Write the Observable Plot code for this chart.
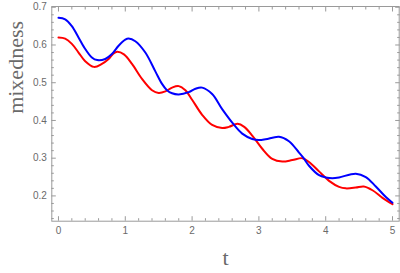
<!DOCTYPE html>
<html>
<head>
<meta charset="utf-8">
<script src="https://cdn.jsdelivr.net/npm/d3@7"></script>
<script src="https://cdn.jsdelivr.net/npm/@observablehq/plot@0.6"></script>
<style>
  body { margin: 0; background: #fff; }
  svg { display: block; }
</style>
</head>
<body>
<div id="chart"></div>
<script>
// Blue series (t, mixedness)
const blueT = [0, 0.1, 0.2, 0.3, 0.38, 0.5, 0.58, 0.7, 0.8, 0.9, 1.0, 1.05, 1.15, 1.3, 1.45, 1.55, 1.62, 1.7, 1.8, 1.95, 2.05, 2.15, 2.3, 2.45, 2.62, 2.75, 2.9, 3.0, 3.1, 3.3, 3.45, 3.6, 3.67, 3.75, 3.9, 4.0, 4.1, 4.2, 4.45, 4.6, 4.75, 4.9, 5.0];
const blueV = [0.672, 0.668, 0.65, 0.62, 0.595, 0.567, 0.56, 0.563, 0.576, 0.598, 0.614, 0.617, 0.61, 0.58, 0.53, 0.497, 0.481, 0.472, 0.469, 0.475, 0.484, 0.487, 0.47, 0.43, 0.39, 0.365, 0.351, 0.348, 0.35, 0.357, 0.345, 0.315, 0.3, 0.28, 0.255, 0.249, 0.247, 0.249, 0.259, 0.25, 0.225, 0.197, 0.182];
// Red series
const redT = [0, 0.1, 0.2, 0.3, 0.4, 0.53, 0.65, 0.75, 0.82, 0.88, 0.98, 1.1, 1.25, 1.4, 1.5, 1.6, 1.7, 1.8, 1.9, 2.0, 2.15, 2.3, 2.45, 2.55, 2.68, 2.78, 2.9, 3.05, 3.2, 3.35, 3.5, 3.65, 3.75, 3.9, 4.0, 4.05, 4.2, 4.3, 4.45, 4.57, 4.7, 4.85, 5.0];
const redV = [0.62, 0.617, 0.603, 0.58, 0.557, 0.542, 0.55, 0.563, 0.577, 0.582, 0.575, 0.55, 0.51, 0.48, 0.473, 0.477, 0.487, 0.491, 0.48, 0.455, 0.415, 0.388, 0.38, 0.383, 0.391, 0.383, 0.36, 0.325, 0.298, 0.291, 0.295, 0.3, 0.29, 0.265, 0.248, 0.24, 0.224, 0.22, 0.222, 0.225, 0.215, 0.195, 0.178];

const xMajor = [0, 1, 2, 3, 4, 5];
const yMajor = [0.2, 0.3, 0.4, 0.5, 0.6, 0.7];
const xMinor = d3.range(0, 26).map(i => i * 0.2).filter(v => Math.abs(v - Math.round(v)) > 1e-6);
const yMinor = d3.range(7, 36).map(i => i * 0.02).filter(v => Math.abs(v * 10 - Math.round(v * 10)) > 1e-6 && v < 0.702 && v > 0.133);

const blue = blueT.map((t, i) => ({t, v: blueV[i]}));
const red = redT.map((t, i) => ({t, v: redV[i]}));

const gray = "#9a9a9a";
const textGray = "#6a6a6a";

const chart = Plot.plot({
  width: 400,
  height: 273,
  marginLeft: 51.3,
  marginRight: 1.3,
  marginTop: 6,
  marginBottom: 52.3,
  style: {fontFamily: "'Liberation Sans', sans-serif", fontSize: "10px", color: textGray, background: "#fff"},
  x: {domain: [-0.1, 5.1]},
  y: {domain: [0.133, 0.702]},
  marks: [
    Plot.frame({stroke: gray, strokeWidth: 1}),
    // labels
    Plot.axisX({ticks: xMajor, tickSize: 0, tickPadding: 6, tickFormat: d3.format("d"), label: null, stroke: gray}),
    Plot.axisY({ticks: yMajor, tickSize: 0, tickPadding: 5, tickFormat: d3.format(".1f"), label: null}),
    // inward ticks bottom/left
    Plot.axisX({ticks: xMajor, tickSize: -4.5, text: null, label: null, stroke: gray}),
    Plot.axisX({ticks: xMinor, tickSize: -2.5, text: null, label: null, stroke: gray}),
    Plot.axisY({ticks: yMajor, tickSize: -4.5, text: null, label: null, stroke: gray}),
    Plot.axisY({ticks: yMinor, tickSize: -2.5, text: null, label: null, stroke: gray}),
    // inward ticks top/right
    Plot.axisX({anchor: "top", ticks: xMajor, tickSize: -4.5, text: null, label: null, stroke: gray}),
    Plot.axisX({anchor: "top", ticks: xMinor, tickSize: -2.5, text: null, label: null, stroke: gray}),
    Plot.axisY({anchor: "right", ticks: yMajor, tickSize: -4.5, text: null, label: null, stroke: gray}),
    Plot.axisY({anchor: "right", ticks: yMinor, tickSize: -2.5, text: null, label: null, stroke: gray}),
    // curves
    Plot.line(red, {x: "t", y: "v", stroke: "#ff0000", strokeWidth: 2, curve: "catmull-rom"}),
    Plot.line(blue, {x: "t", y: "v", stroke: "#0000ff", strokeWidth: 2, curve: "catmull-rom"}),
    // axis titles
    Plot.text(["mixedness"], {frameAnchor: "left", dx: -28.5, rotate: -90, lineAnchor: "bottom", fontFamily: "'Liberation Serif', serif", fontSize: 22, fill: textGray}),
    Plot.text(["t"], {frameAnchor: "bottom", dy: 44, lineAnchor: "bottom", fontFamily: "'Liberation Serif', serif", fontSize: 22, fill: textGray})
  ]
});
document.getElementById("chart").appendChild(chart);
</script>
</body>
</html>
